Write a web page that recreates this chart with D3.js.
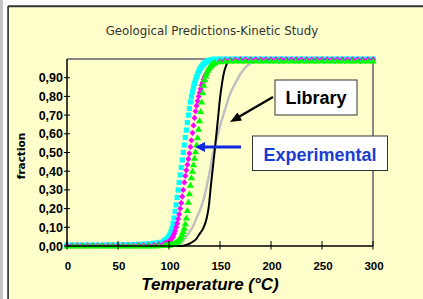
<!DOCTYPE html>
<html>
<head>
<meta charset="utf-8">
<script src="https://cdn.jsdelivr.net/npm/d3@7"></script>
<style>
  body { margin: 0; background: #fff; }
  svg { display: block; }
</style>
</head>
<body>
<div id="chart"></div>
<script>
// experimental temperatures (shared grid for the three marker series)
const expTemp = [0, 5, 10, 15, 20, 25, 30, 35, 40, 45, 50, 55, 60, 65, 70, 75, 80, 85, 90, 95,
  96, 97, 98, 99, 100, 101, 102, 103, 104, 105, 106, 107, 108, 109, 110, 111, 112, 113, 114, 115,
  116, 117, 118, 119, 120, 121, 122, 123, 124, 125, 126, 127, 128, 129, 130, 131, 132, 133, 134, 135,
  136, 137, 138, 139, 140, 141, 142, 143, 144, 145,
  150, 155, 160, 165, 170, 175, 180, 185, 190, 195, 200, 205, 210, 215, 220, 225, 230, 235, 240, 245,
  250, 255, 260, 265, 270, 275, 280, 285, 290, 295, 300];

const cyanFrac = [0.005, 0.005, 0.005, 0.005, 0.005, 0.005, 0.005, 0.005, 0.006, 0.006, 0.006, 0.007, 0.007, 0.008, 0.009, 0.01, 0.012, 0.015, 0.019, 0.027,
  0.03, 0.034, 0.039, 0.045, 0.053, 0.063, 0.077, 0.095, 0.12, 0.15, 0.185, 0.22, 0.26, 0.3, 0.34, 0.38, 0.42, 0.46, 0.5, 0.54,
  0.58, 0.62, 0.66, 0.7, 0.735, 0.77, 0.8, 0.825, 0.85, 0.87, 0.888, 0.905, 0.92, 0.932, 0.943, 0.952, 0.96, 0.967, 0.973, 0.978,
  0.982, 0.986, 0.989, 0.991, 0.993, 0.995, 0.996, 0.997, 0.998, 0.999,
  1, 1, 1, 1, 1, 1, 1, 1, 1, 1, 1, 1, 1, 1, 1, 1, 1, 1, 1, 1,
  1, 1, 1, 1, 1, 1, 1, 1, 1, 1, 1];

const magentaFrac = [0.003, 0.003, 0.003, 0.003, 0.003, 0.003, 0.003, 0.003, 0.003, 0.003, 0.003, 0.003, 0.003, 0.003, 0.004, 0.004, 0.004, 0.005, 0.008, 0.012,
  0.013, 0.015, 0.017, 0.02, 0.024, 0.028, 0.034, 0.042, 0.052, 0.065, 0.08, 0.1, 0.12, 0.145, 0.17, 0.2, 0.23, 0.265, 0.3, 0.34,
  0.375, 0.405, 0.435, 0.465, 0.495, 0.53, 0.565, 0.605, 0.645, 0.685, 0.72, 0.75, 0.775, 0.8, 0.82, 0.84, 0.86, 0.875, 0.89, 0.905,
  0.915, 0.925, 0.935, 0.944, 0.952, 0.958, 0.964, 0.969, 0.974, 0.978,
  0.988, 0.993, 0.995, 0.996, 0.997, 0.997, 0.997, 0.997, 0.997, 0.997, 0.997, 0.997, 0.997, 0.997, 0.997, 0.997, 0.997, 0.997, 0.997, 0.997,
  0.997, 0.997, 0.997, 0.997, 0.997, 0.997, 0.997, 0.997, 0.997, 0.997, 0.997];

const greenFrac = [0.001, 0.001, 0.001, 0.001, 0.001, 0.001, 0.001, 0.001, 0.001, 0.001, 0.001, 0.001, 0.001, 0.001, 0.001, 0.001, 0.001, 0.001, 0.002, 0.003,
  0.003, 0.004, 0.004, 0.005, 0.006, 0.007, 0.008, 0.009, 0.011, 0.013, 0.016, 0.019, 0.023, 0.028, 0.034, 0.042, 0.052, 0.064, 0.078, 0.095,
  0.12, 0.15, 0.19, 0.235, 0.28, 0.325, 0.365, 0.4, 0.435, 0.47, 0.505, 0.54, 0.58, 0.625, 0.67, 0.72, 0.77, 0.82, 0.86, 0.89,
  0.91, 0.925, 0.94, 0.95, 0.958, 0.965, 0.97, 0.975, 0.978, 0.981,
  0.986, 0.989, 0.99, 0.99, 0.99, 0.99, 0.99, 0.99, 0.99, 0.99, 0.99, 0.99, 0.99, 0.99, 0.99, 0.99, 0.99, 0.99, 0.99, 0.99,
  0.99, 0.99, 0.99, 0.99, 0.99, 0.99, 0.99, 0.99, 0.99, 0.99, 0.99];

// library predictions (lines)
const blackTemp = [0, 110, 115, 120, 124, 127, 130, 134, 137, 139, 141, 143, 145, 148, 150, 152, 154, 156, 158, 162, 170, 300];
const blackFrac = [0, 0, 0.003, 0.012, 0.025, 0.04, 0.065, 0.1, 0.15, 0.21, 0.32, 0.42, 0.52, 0.68, 0.79, 0.87, 0.93, 0.965, 0.985, 0.997, 1, 1];

const grayTemp = [0, 100, 105, 110, 113, 117, 120, 124, 127, 131, 134, 137, 140, 143, 147, 151, 155, 159, 163, 166, 170, 176, 182, 190, 200, 300];
const grayFrac = [0, 0, 0.003, 0.01, 0.02, 0.05, 0.075, 0.11, 0.15, 0.2, 0.25, 0.32, 0.4, 0.49, 0.58, 0.66, 0.73, 0.8, 0.85, 0.88, 0.92, 0.96, 0.985, 0.997, 1, 1];

const xTicks = [0, 50, 100, 150, 200, 250, 300];
const yTicks = [0, 0.1, 0.2, 0.3, 0.4, 0.5, 0.6, 0.7, 0.8, 0.9];

const W = 423, H = 299;
const PLOT = {left: 67, right: 373, top: 59, bottom: 246};

const svg = d3.select("#chart").append("svg")
  .attr("width", W)
  .attr("height", H);

// frame / background
svg.append("rect").attr("x", 0).attr("y", 0).attr("width", W).attr("height", H).attr("fill", "#ffffff");
svg.append("rect").attr("x", 0).attr("y", 0).attr("width", 3).attr("height", H).attr("fill", "#c4c4c4");
svg.append("rect").attr("x", 8).attr("y", 7).attr("width", W - 8).attr("height", H - 7).attr("fill", "#ffffcc");
svg.append("line").attr("x1", 8).attr("y1", 6.3).attr("x2", W).attr("y2", 6.3)
  .attr("stroke", "#333").attr("stroke-width", 2);
svg.append("line").attr("x1", 8.1).attr("y1", 6).attr("x2", 8.1).attr("y2", H)
  .attr("stroke", "#333").attr("stroke-width", 1.7);

const x = d3.scaleLinear().domain([0, 300]).range([PLOT.left, PLOT.right]);
const y = d3.scaleLinear().domain([0, 1]).range([PLOT.bottom, PLOT.top]);

// title
svg.append("text")
  .attr("x", 212).attr("y", 35)
  .attr("text-anchor", "middle")
  .attr("font-family", "DejaVu Sans, Verdana, sans-serif")
  .attr("font-size", "11.8px")
  .attr("fill", "#333")
  .text("Geological Predictions-Kinetic Study");

// top and right border of plot
svg.append("path")
  .attr("d", `M${PLOT.left},${PLOT.top}H${PLOT.right}V${PLOT.bottom}`)
  .attr("fill", "none").attr("stroke", "#888").attr("stroke-width", 2);

// library lines
const line = (xs, ys) => d3.line()
  .x((d, i) => x(xs[i]))
  .y((d, i) => y(ys[i]))
  .curve(d3.curveMonotoneX)(ys);

svg.append("path")
  .attr("d", line(grayTemp, grayFrac))
  .attr("fill", "none").attr("stroke", "#c0c0c0").attr("stroke-width", 2.5);

svg.append("path")
  .attr("d", line(blackTemp, blackFrac))
  .attr("fill", "none").attr("stroke", "#000").attr("stroke-width", 2);

// experimental markers
const squarePath = "M-2.6,-2.6h5.2v5.2h-5.2z";
const diamondPath = "M0,-3.2L3,0L0,3.2L-3,0z";
const trianglePath = "M0,-3.4L3.6,2.6L-3.6,2.6z";

function drawMarkers(vals, path, color) {
  svg.append("g")
    .selectAll("path")
    .data(vals)
    .enter().append("path")
    .attr("transform", (d, i) => `translate(${x(expTemp[i])},${y(d)})`)
    .attr("d", path)
    .attr("fill", color);
}

drawMarkers(cyanFrac, squarePath, "#00ffff");
drawMarkers(magentaFrac, diamondPath, "#ff00ff");
drawMarkers(greenFrac, trianglePath, "#00ff00");

// axes
const xAxis = svg.append("g").attr("transform", `translate(0,${PLOT.bottom})`);
xAxis.append("line").attr("x1", PLOT.left).attr("x2", PLOT.right).attr("stroke", "#000").attr("stroke-width", 1.5);
xAxis.selectAll(".tk").data(xTicks).enter().append("line")
  .attr("x1", d => x(d)).attr("x2", d => x(d))
  .attr("y1", -5).attr("y2", 3.5)
  .attr("stroke", "#000").attr("stroke-width", 1);
xAxis.selectAll(".lb").data(xTicks).enter().append("text")
  .attr("x", d => x(d) + 1).attr("y", 24)
  .attr("text-anchor", "middle")
  .attr("font-family", "Liberation Sans, Arial, sans-serif")
  .attr("font-weight", "bold")
  .attr("font-size", "11.5px")
  .text(d => d);

const yAxis = svg.append("g").attr("transform", `translate(${PLOT.left},0)`);
yAxis.append("line").attr("y1", PLOT.top).attr("y2", PLOT.bottom).attr("stroke", "#000").attr("stroke-width", 1.5);
yAxis.selectAll(".tk").data(yTicks).enter().append("line")
  .attr("y1", d => y(d)).attr("y2", d => y(d))
  .attr("x1", -3).attr("x2", 3)
  .attr("stroke", "#000").attr("stroke-width", 1);
yAxis.selectAll(".lb").data(yTicks).enter().append("text")
  .attr("x", -4).attr("y", d => y(d))
  .attr("dy", "0.36em")
  .attr("text-anchor", "end")
  .attr("font-family", "Liberation Sans, Arial, sans-serif")
  .attr("font-weight", "bold")
  .attr("font-size", "12.5px")
  .text(d => d3.format(".2f")(d).replace(".", ","));

// axis titles
svg.append("text")
  .attr("transform", "translate(25,156) rotate(-90)")
  .attr("text-anchor", "middle")
  .attr("font-family", "DejaVu Sans, Verdana, sans-serif")
  .attr("font-weight", "bold")
  .attr("font-size", "10.5px")
  .text("fraction");

svg.append("text")
  .attr("x", 210).attr("y", 290)
  .attr("text-anchor", "middle")
  .attr("font-family", "Liberation Sans, Arial, sans-serif")
  .attr("font-style", "italic")
  .attr("font-weight", "bold")
  .attr("font-size", "17px")
  .text("Temperature (°C)");

// annotations
svg.append("line").attr("x1", 273).attr("y1", 97).attr("x2", 236).attr("y2", 118.5)
  .attr("stroke", "#000").attr("stroke-width", 2.2);
svg.append("path").attr("d", "M230,122L237.5,112.5L242,120.5z").attr("fill", "#000");

svg.append("rect").attr("x", 275).attr("y", 80).attr("width", 82).attr("height", 35)
  .attr("fill", "#fff").attr("stroke", "#333").attr("stroke-width", 1);
svg.append("text")
  .attr("x", 316).attr("y", 103.5)
  .attr("text-anchor", "middle")
  .attr("font-family", "Liberation Sans, Arial, sans-serif")
  .attr("font-weight", "bold")
  .attr("font-size", "18px")
  .text("Library");

svg.append("line").attr("x1", 241).attr("y1", 147).attr("x2", 203).attr("y2", 147)
  .attr("stroke", "#1028e0").attr("stroke-width", 3);
svg.append("path").attr("d", "M195,147L205,142L205,152z").attr("fill", "#1028e0");

svg.append("rect").attr("x", 252.5).attr("y", 136).attr("width", 135).attr("height", 34.5)
  .attr("fill", "#fff").attr("stroke", "#333").attr("stroke-width", 1);
svg.append("text")
  .attr("x", 320).attr("y", 160.5)
  .attr("text-anchor", "middle")
  .attr("font-family", "Liberation Sans, Arial, sans-serif")
  .attr("font-weight", "bold")
  .attr("font-size", "18px")
  .attr("fill", "#1a3ccf")
  .text("Experimental");
</script>
</body>
</html>
